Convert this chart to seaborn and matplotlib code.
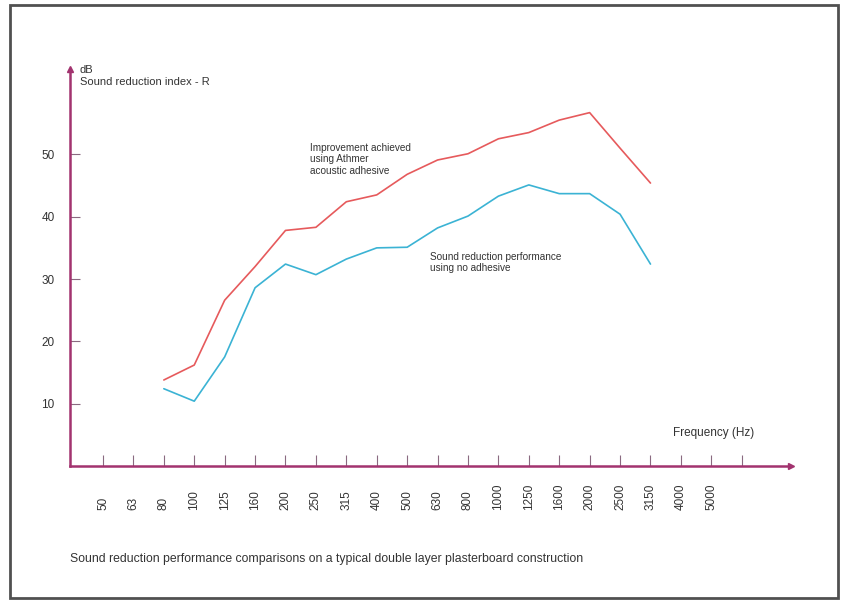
import matplotlib.pyplot as plt
import pandas as pd
import seaborn as sns
from matplotlib.patches import Rectangle

# Frequency bands on the x axis (one unlabeled tick after 5000)
freqs = ['50', '63', '80', '100', '125', '160', '200', '250', '315', '400', '500',
         '630', '800', '1000', '1250', '1600', '2000', '2500', '3150', '4000', '5000']
measured = ['80', '100', '125', '160', '200', '250', '315', '400', '500',
            '630', '800', '1000', '1250', '1600', '2000', '2500', '3150']
with_adhesive = [13.8, 16.2, 26.6, 32.0, 37.8, 38.3, 42.4, 43.5, 46.8,
                 49.1, 50.1, 52.5, 53.5, 55.5, 56.7, 51.0, 45.4]
no_adhesive = [12.4, 10.4, 17.5, 28.6, 32.4, 30.7, 33.2, 35.0, 35.1,
               38.2, 40.1, 43.3, 45.1, 43.7, 43.7, 40.4, 32.4]
y_ticks = [10, 20, 30, 40, 50]

purple = '#a2336f'
red = '#e65a5c'
blue = '#3bb3d4'

sns.set_style('white')
plt.rcParams['font.family'] = ['Liberation Sans Narrow', 'Liberation Sans', 'DejaVu Sans']

df = pd.DataFrame({
    'pos': [freqs.index(f) for f in measured] * 2,
    'R': with_adhesive + no_adhesive,
    'series': ['adhesive'] * len(measured) + ['none'] * len(measured),
})

W, H = 843, 603
fig = plt.figure(figsize=(W / 100, H / 100), dpi=100)
fig.patch.set_facecolor('white')

# scanned page border
fig.patches.append(Rectangle((10 / W, 5 / H), 828 / W, 593 / H, transform=fig.transFigure,
                             fill=False, edgecolor='#505050', linewidth=2.0))

ax = fig.add_axes([70 / W, 1 - 466 / H, (791 - 70) / W, (466 - 69) / H])
sns.lineplot(data=df, x='pos', y='R', hue='series', palette={'adhesive': red, 'none': blue},
             linewidth=1.2, legend=False, ax=ax)

ax.set_xlim(-1.085, 22.62)
ax.set_ylim(0, 63.7)

for side in ['top', 'right']:
    ax.spines[side].set_visible(False)
for side in ['left', 'bottom']:
    ax.spines[side].set_color(purple)
    ax.spines[side].set_linewidth(1.8)

# arrow heads at the ends of both axes
ax.plot(1, 0, '>', color=purple, markersize=5, transform=ax.transAxes, clip_on=False)
ax.plot(0, 1, '^', color=purple, markersize=5, transform=ax.transAxes, clip_on=False)

ax.set_xticks(range(len(freqs) + 1))
ax.set_xticklabels(freqs + [''], rotation=90, fontsize=8.5, color='#333333')
plt.setp(ax.get_xticklabels(), va='bottom')
ax.tick_params(axis='x', direction='in', length=8, width=0.8, color='#8a6a80', pad=32, bottom=True)

ax.set_yticks(y_ticks)
ax.set_yticklabels([str(v) for v in y_ticks], fontsize=8.5, color='#333333')
ax.tick_params(axis='y', direction='in', length=7, width=0.8, color='#8a6a80', pad=11, left=True)

ax.set_xlabel('')
ax.set_ylabel('')

fig.text(80 / W, 1 - 70 / H, 'dB', fontsize=8, color='#333333', va='center')
fig.text(80 / W, 1 - 82 / H, 'Sound reduction index - R', fontsize=8, color='#333333', va='center')

ax.text(6.8, 51.8, 'Improvement achieved\nusing Athmer\nacoustic adhesive',
        fontsize=7.2, color='#333333', va='top', linespacing=1.15)
ax.text(10.75, 34.4, 'Sound reduction performance\nusing no adhesive',
        fontsize=7.2, color='#333333', va='top', linespacing=1.15)

fig.text(673 / W, 1 - 433 / H, 'Frequency (Hz)', fontsize=8.5, color='#333333', va='center')

fig.text(70 / W, 1 - 559 / H,
         'Sound reduction performance comparisons on a typical double layer plasterboard construction',
         fontsize=8.8, color='#333333', va='center')

fig.savefig('out.png', dpi=100)
